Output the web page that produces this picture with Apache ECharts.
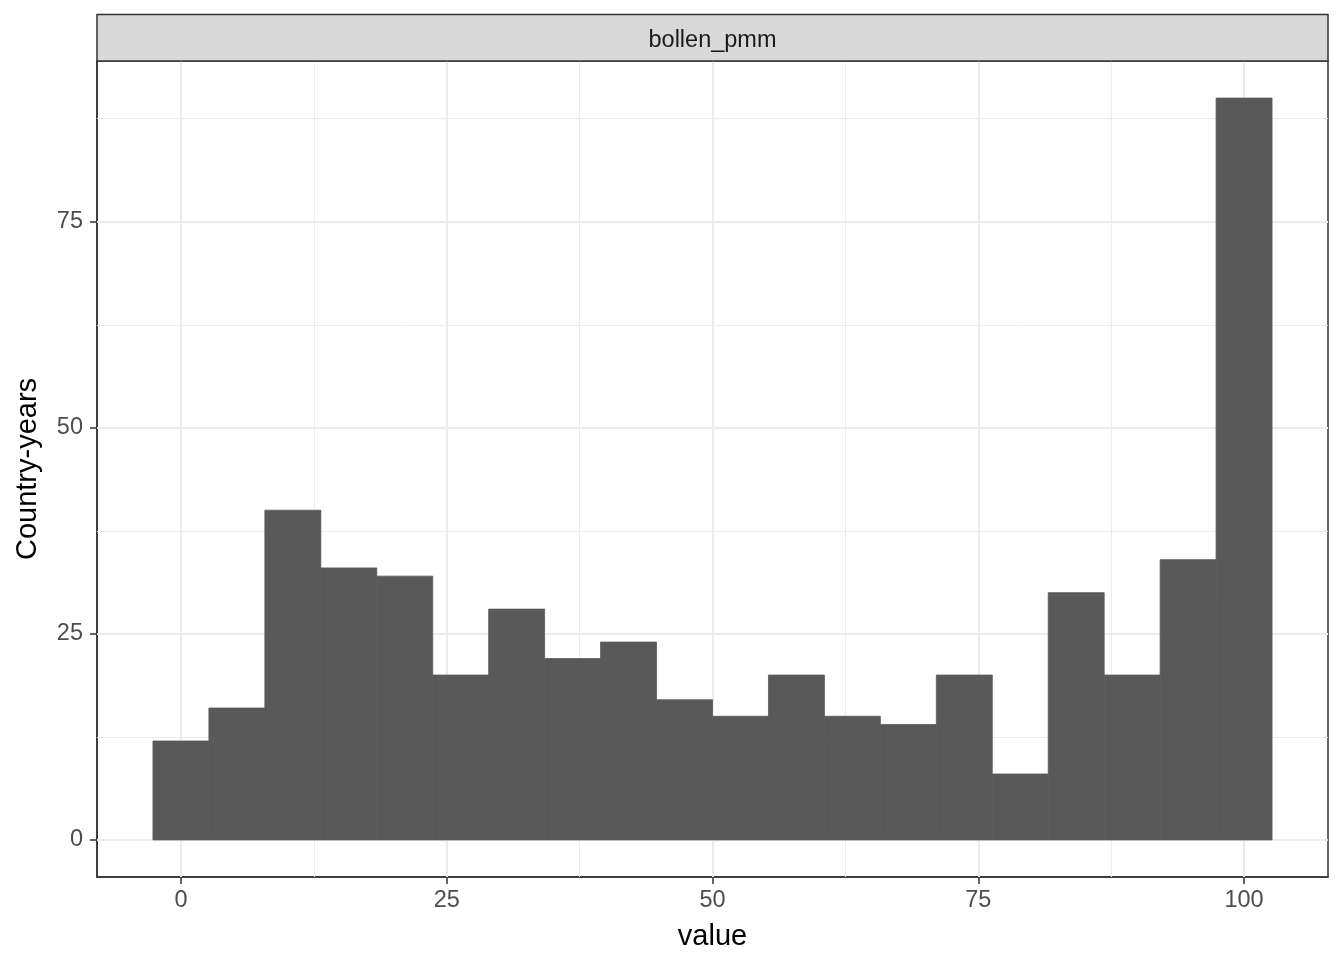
<!DOCTYPE html>
<html>
<head>
<meta charset="utf-8">
<script src="https://cdn.jsdelivr.net/npm/echarts@6/dist/echarts.min.js"></script>
<style>html,body{margin:0;padding:0;background:#fff}#c{width:1344px;height:960px}</style>
</head>
<body>
<div id="c"></div>
<script>
// Histogram data (bin centres and counts)
const binCenters = [0, 5.263, 10.526, 15.789, 21.053, 26.316, 31.579, 36.842, 42.105, 47.368,
                    52.632, 57.895, 63.158, 68.421, 73.684, 78.947, 84.211, 89.474, 94.737, 100];
const counts = [12, 16, 40, 33, 32, 20, 28, 22, 24, 17, 15, 20, 15, 14, 20, 8, 30, 20, 34, 90];
const binWidth = 5.263;
const xTicks = [0, 25, 50, 75, 100];
const yTicks = [0, 25, 50, 75];
const xMinor = [12.5, 37.5, 62.5, 87.5];
const yMinor = [12.5, 37.5, 62.5, 87.5];
const facetLabel = 'bollen_pmm';
const xTitle = 'value';
const yTitle = 'Country-years';

const FONT = 'Liberation Sans, Arial, sans-serif';
const chart = echarts.init(document.getElementById('c'), null, {renderer: 'canvas'});

const data = binCenters.map((c, i) => [c, counts[i]]);
const gridLines = [];
xMinor.forEach(v => gridLines.push({xAxis: v, lineStyle: {width: 1, color: '#EBEBEB', type: 'solid'}}));
yMinor.forEach(v => gridLines.push({yAxis: v, lineStyle: {width: 1, color: '#EBEBEB', type: 'solid'}}));
xTicks.forEach(v => gridLines.push({xAxis: v, lineStyle: {width: 2, color: '#EBEBEB', type: 'solid'}}));
yTicks.forEach(v => gridLines.push({yAxis: v, lineStyle: {width: 2, color: '#EBEBEB', type: 'solid'}}));

const option = {
  backgroundColor: '#ffffff',
  animation: false,
  grid: {left: 97, right: 16, top: 61, bottom: 83, show: true, borderColor: '#333333', borderWidth: 1.5, backgroundColor: '#ffffff'},
  xAxis: {
    type: 'value', min: -7.8947, max: 107.8947,
    name: xTitle, nameLocation: 'middle', nameGap: 45,
    nameTextStyle: {fontFamily: FONT, fontSize: 29, color: '#000000'},
    axisLine: {show: true, onZero: false, lineStyle: {color: '#333333', width: 1.5}},
    axisTick: {show: true, length: 7, lineStyle: {color: '#333333', width: 1.5}, customValues: xTicks},
    axisLabel: {show: true, customValues: xTicks, margin: 12, fontFamily: FONT, fontSize: 23.5, color: '#4D4D4D'},
    splitLine: {show: false}, minorSplitLine: {show: false}
  },
  yAxis: {
    type: 'value', min: -4.5, max: 94.5,
    name: yTitle, nameLocation: 'middle', nameGap: 55, nameRotate: 90,
    nameTextStyle: {fontFamily: FONT, fontSize: 29, color: '#000000'},
    axisLine: {show: true, onZero: false, lineStyle: {color: '#333333', width: 1.5}},
    axisTick: {show: true, length: 7, lineStyle: {color: '#333333', width: 1.5}, customValues: yTicks},
    axisLabel: {show: true, customValues: yTicks, margin: 14, fontFamily: FONT, fontSize: 23.5, color: '#4D4D4D'},
    splitLine: {show: false}
  },
  graphic: [
    {type: 'rect', shape: {x: 97, y: 14.5, width: 1231, height: 46.5},
     style: {fill: '#D9D9D9', stroke: '#333333', lineWidth: 1.5}, z: 10},
    {type: 'text', x: 712.5, y: 41, z: 11,
     style: {text: facetLabel, fontFamily: FONT, fontSize: 23.5, fill: '#1A1A1A', align: 'center', verticalAlign: 'middle'}}
  ],
  series: [
    {
      type: 'line', data: [], silent: true, z: 1,
      markLine: {silent: true, z: 1, symbol: ['none', 'none'], label: {show: false}, animation: false, data: gridLines}
    },
    {
      type: 'custom', z: 6, silent: true,
      data: data,
      renderItem: function (params, api) {
        const c = api.value(0), v = api.value(1);
        const p0 = api.coord([c - binWidth / 2, v]);
        const p1 = api.coord([c + binWidth / 2, 0]);
        return {type: 'rect', z2: 10, shape: {x: p0[0], y: p0[1], width: p1[0] - p0[0], height: p1[1] - p0[1]},
                style: {fill: '#595959', stroke: '#595959', lineWidth: 0.8}};
      }
    }
  ]
};
chart.setOption(option);
</script>
</body>
</html>
